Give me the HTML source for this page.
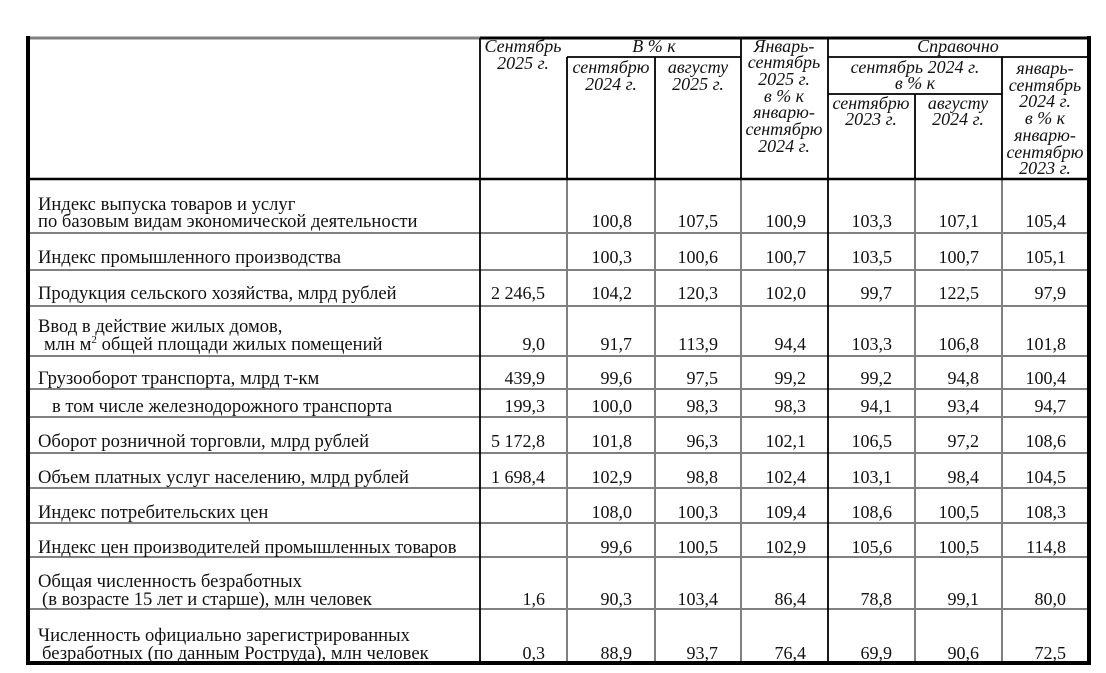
<!DOCTYPE html>
<html><head><meta charset="utf-8"><style>
html,body{margin:0;padding:0;background:#fff;}
svg{display:block;}
text{font-family:"Liberation Serif","DejaVu Serif",serif;fill:#111;}
.b{font-size:18.6px;}
.h{font-size:18px;font-style:italic;text-anchor:middle;}
.n{font-size:18px;text-anchor:end;}
</style></head><body>
<svg width="1106" height="673" xmlns="http://www.w3.org/2000/svg">
<g stroke="#808080" stroke-width="2">
<line x1="29" y1="233" x2="1089" y2="233"/>
<line x1="29" y1="270" x2="1089" y2="270"/>
<line x1="29" y1="306" x2="1089" y2="306"/>
<line x1="29" y1="356" x2="1089" y2="356"/>
<line x1="29" y1="389" x2="1089" y2="389"/>
<line x1="29" y1="417" x2="1089" y2="417"/>
<line x1="29" y1="453" x2="1089" y2="453"/>
<line x1="29" y1="488" x2="1089" y2="488"/>
<line x1="29" y1="523" x2="1089" y2="523"/>
<line x1="29" y1="557" x2="1089" y2="557"/>
<line x1="29" y1="609" x2="1089" y2="609"/>
<line x1="567" y1="179" x2="567" y2="662"/>
<line x1="655" y1="179" x2="655" y2="662"/>
<line x1="741" y1="179" x2="741" y2="662"/>
<line x1="915" y1="179" x2="915" y2="662"/>
<line x1="1002" y1="179" x2="1002" y2="662"/>
<line x1="29" y1="38" x2="480" y2="38" stroke-width="3"/>
</g>
<g stroke="#000">
<line x1="480" y1="38" x2="1091" y2="38" stroke-width="3"/>
<line x1="28" y1="36" x2="28" y2="665" stroke-width="4"/>
<line x1="1089" y1="36" x2="1089" y2="665" stroke-width="4"/>
<line x1="28" y1="663" x2="1091" y2="663" stroke-width="4"/>
<line x1="28" y1="179" x2="1089" y2="179" stroke-width="2.5"/>
<line x1="480" y1="38" x2="480" y2="662" stroke-width="1.8"/>
<line x1="567" y1="57" x2="567" y2="179" stroke-width="1.8"/>
<line x1="655" y1="57" x2="655" y2="179" stroke-width="1.8"/>
<line x1="741" y1="38" x2="741" y2="179" stroke-width="1.8"/>
<line x1="828" y1="38" x2="828" y2="662" stroke-width="1.8"/>
<line x1="915" y1="94" x2="915" y2="179" stroke-width="1.8"/>
<line x1="1002" y1="57" x2="1002" y2="179" stroke-width="1.8"/>
<line x1="567" y1="57" x2="741" y2="57" stroke-width="1.8"/>
<line x1="828" y1="57" x2="1089" y2="57" stroke-width="1.8"/>
<line x1="828" y1="94" x2="1002" y2="94" stroke-width="1.8"/>
</g>
<g class="h">
<text x="523" y="52">Сентябрь</text><text x="523" y="69">2025 г.</text>
<text x="654" y="52">В % к</text>
<text x="611" y="73">сентябрю</text><text x="611" y="90">2024 г.</text>
<text x="698" y="73">августу</text><text x="698" y="90">2025 г.</text>
<text x="784" y="52">Январь-</text><text x="784" y="68">сентябрь</text><text x="784" y="85">2025 г.</text><text x="784" y="102">в % к</text><text x="784" y="118">январю-</text><text x="784" y="135">сентябрю</text><text x="784" y="152">2024 г.</text>
<text x="958" y="52">Справочно</text>
<text x="915" y="73">сентябрь 2024 г.</text><text x="915" y="89">в % к</text>
<text x="871" y="109">сентябрю</text><text x="871" y="125">2023 г.</text>
<text x="958" y="109">августу</text><text x="958" y="125">2024 г.</text>
<text x="1045" y="74">январь-</text><text x="1045" y="91">сентябрь</text><text x="1045" y="107">2024 г.</text><text x="1045" y="124">в % к</text><text x="1045" y="141">январю-</text><text x="1045" y="158">сентябрю</text><text x="1045" y="174">2023 г.</text>
</g>
<g class="b">
<text x="38" y="210">Индекс выпуска товаров и услуг</text>
<text x="38" y="227"> по базовым видам экономической деятельности</text>
<text x="38" y="263">Индекс промышленного производства</text>
<text x="38" y="299">Продукция сельского хозяйства, млрд рублей</text>
<text x="38" y="332">Ввод в действие жилых домов,</text>
<text x="44" y="350">млн м<tspan font-size="11" dy="-7">2</tspan><tspan dy="7"> общей площади жилых помещений</tspan></text>
<text x="38" y="384">Грузооборот транспорта, млрд т-км</text>
<text x="52" y="412">в том числе  железнодорожного транспорта</text>
<text x="38" y="447">Оборот розничной торговли, млрд рублей</text>
<text x="38" y="483">Объем платных услуг населению, млрд рублей</text>
<text x="38" y="518">Индекс потребительских цен</text>
<text x="38" y="553">Индекс цен производителей промышленных товаров</text>
<text x="38" y="587">Общая численность безработных</text>
<text x="42" y="605">(в возрасте 15 лет и старше), млн человек</text>
<text x="38" y="641">Численность официально зарегистрированных</text>
<text x="42" y="659">безработных (по данным Роструда), млн человек</text>
</g>
<g class="n">
<text x="632" y="227">100,8</text><text x="718" y="227">107,5</text><text x="806" y="227">100,9</text><text x="892" y="227">103,3</text><text x="979" y="227">107,1</text><text x="1066" y="227">105,4</text>
<text x="632" y="263">100,3</text><text x="718" y="263">100,6</text><text x="806" y="263">100,7</text><text x="892" y="263">103,5</text><text x="979" y="263">100,7</text><text x="1066" y="263">105,1</text>
<text x="545" y="299">2 246,5</text><text x="632" y="299">104,2</text><text x="718" y="299">120,3</text><text x="806" y="299">102,0</text><text x="892" y="299">99,7</text><text x="979" y="299">122,5</text><text x="1066" y="299">97,9</text>
<text x="545" y="350">9,0</text><text x="632" y="350">91,7</text><text x="718" y="350">113,9</text><text x="806" y="350">94,4</text><text x="892" y="350">103,3</text><text x="979" y="350">106,8</text><text x="1066" y="350">101,8</text>
<text x="545" y="384">439,9</text><text x="632" y="384">99,6</text><text x="718" y="384">97,5</text><text x="806" y="384">99,2</text><text x="892" y="384">99,2</text><text x="979" y="384">94,8</text><text x="1066" y="384">100,4</text>
<text x="545" y="412">199,3</text><text x="632" y="412">100,0</text><text x="718" y="412">98,3</text><text x="806" y="412">98,3</text><text x="892" y="412">94,1</text><text x="979" y="412">93,4</text><text x="1066" y="412">94,7</text>
<text x="545" y="447">5 172,8</text><text x="632" y="447">101,8</text><text x="718" y="447">96,3</text><text x="806" y="447">102,1</text><text x="892" y="447">106,5</text><text x="979" y="447">97,2</text><text x="1066" y="447">108,6</text>
<text x="545" y="483">1 698,4</text><text x="632" y="483">102,9</text><text x="718" y="483">98,8</text><text x="806" y="483">102,4</text><text x="892" y="483">103,1</text><text x="979" y="483">98,4</text><text x="1066" y="483">104,5</text>
<text x="632" y="518">108,0</text><text x="718" y="518">100,3</text><text x="806" y="518">109,4</text><text x="892" y="518">108,6</text><text x="979" y="518">100,5</text><text x="1066" y="518">108,3</text>
<text x="632" y="553">99,6</text><text x="718" y="553">100,5</text><text x="806" y="553">102,9</text><text x="892" y="553">105,6</text><text x="979" y="553">100,5</text><text x="1066" y="553">114,8</text>
<text x="545" y="605">1,6</text><text x="632" y="605">90,3</text><text x="718" y="605">103,4</text><text x="806" y="605">86,4</text><text x="892" y="605">78,8</text><text x="979" y="605">99,1</text><text x="1066" y="605">80,0</text>
<text x="545" y="659">0,3</text><text x="632" y="659">88,9</text><text x="718" y="659">93,7</text><text x="806" y="659">76,4</text><text x="892" y="659">69,9</text><text x="979" y="659">90,6</text><text x="1066" y="659">72,5</text>
</g>
</svg>
</body></html>
